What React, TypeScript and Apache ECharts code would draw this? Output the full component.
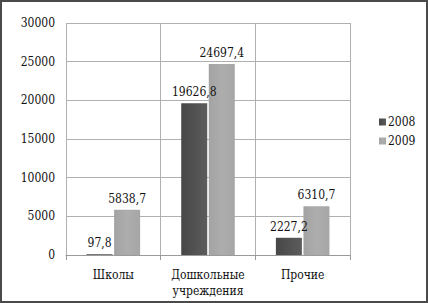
import React, { useEffect, useRef } from "react";
import * as echarts from "echarts";

const categories = ["Школы", "Дошкольные\nучреждения", "Прочие"];
const series2008 = [97.8, 19626.8, 2227.2];
const series2009 = [5838.7, 24697.4, 6310.7];
const seriesNames = ["2008", "2009"];

const FONT = "DejaVu Serif Condensed, DejaVu Serif";
const FS = 12;

export default function App() {
  const ref = useRef<HTMLDivElement>(null);
  useEffect(() => {
    if (!ref.current) return;
    const chart = echarts.init(ref.current, null, { renderer: "svg" });
    const labelFmt = (p: any) => String(p.value).replace(".", ",");
    chart.setOption({
      animation: false,
      backgroundColor: "#fff",
      textStyle: { fontFamily: FONT },
      graphic: [
        {
          type: "rect",
          shape: { x: 1, y: 1, width: 426, height: 301 },
          style: { fill: "none", stroke: "#4a4a4a", lineWidth: 2 },
          silent: true,
        },
      ],
      grid: { left: 66, right: 78, top: 23, bottom: 48 },
      legend: {
        orient: "vertical",
        left: 374,
        top: 111,
        itemWidth: 7,
        itemHeight: 7,
        itemGap: 7,
        icon: "rect",
        data: seriesNames,
        textStyle: { fontFamily: FONT, fontSize: FS, color: "#111", padding: [0, 0, 0, -3] },
      },
      xAxis: {
        type: "category",
        data: categories,
        boundaryGap: true,
        axisLine: { show: true, lineStyle: { color: "#9a9a9a", width: 1 } },
        axisTick: { show: true, length: 5, lineStyle: { color: "#9a9a9a" } },
        splitLine: { show: true, lineStyle: { color: "#b0b0b0", width: 1 } },
        axisLabel: {
          fontFamily: FONT,
          fontSize: FS,
          color: "#111",
          margin: 12,
          lineHeight: 16,
          interval: 0,
        },
      },
      yAxis: {
        type: "value",
        min: 0,
        max: 30000,
        interval: 5000,
        axisLine: { show: false },
        axisTick: { show: false },
        splitLine: { show: true, lineStyle: { color: "#b0b0b0", width: 1 } },
        axisLabel: {
          fontFamily: FONT,
          fontSize: FS,
          color: "#111",
          margin: 11,
          formatter: (v: number) => String(v),
        },
      },
      series: [
        {
          name: seriesNames[0],
          type: "bar",
          data: series2008,
          barWidth: 26,
          barGap: "6%",
          itemStyle: {
            color: new echarts.graphic.LinearGradient(0, 0, 1, 0, [
              { offset: 0, color: "#474747" },
              { offset: 1, color: "#5c5c5c" },
            ]),
          },
          label: {
            show: true,
            position: "top",
            distance: 5,
            fontFamily: FONT,
            fontSize: FS,
            color: "#111",
            formatter: labelFmt,
          },
        },
        {
          name: seriesNames[1],
          type: "bar",
          data: series2009,
          barWidth: 26,
          itemStyle: {
            color: new echarts.graphic.LinearGradient(0, 0, 1, 0, [
              { offset: 0, color: "#a3a3a3" },
              { offset: 0.5, color: "#adadad" },
              { offset: 1, color: "#a6a6a6" },
            ]),
          },
          label: {
            show: true,
            position: "top",
            distance: 5,
            fontFamily: FONT,
            fontSize: FS,
            color: "#111",
            formatter: labelFmt,
          },
        },
      ],
    });
    return () => chart.dispose();
  }, []);
  return (
    <div
      ref={ref}
      style={{ position: "fixed", left: 0, top: 0, width: 428, height: 303 }}
    />
  );
}
